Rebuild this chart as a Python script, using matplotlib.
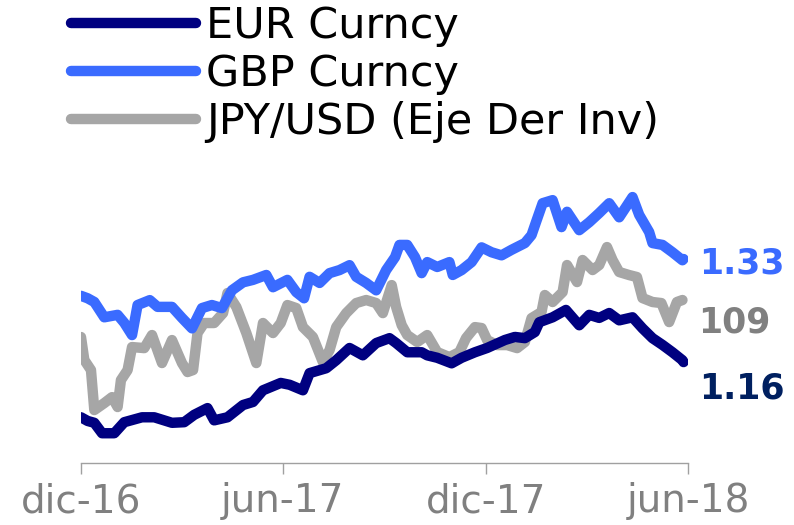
import matplotlib
matplotlib.use("Agg")
import matplotlib.pyplot as plt
import pandas as pd

# ---------------- data ----------------
gbp_dates = ["2016-12-01", "2016-12-07", "2016-12-13", "2016-12-22", "2017-01-03", "2017-01-09",
             "2017-01-16", "2017-01-21", "2017-02-01", "2017-02-08", "2017-02-21", "2017-03-02",
             "2017-03-11", "2017-03-20", "2017-03-29", "2017-04-07", "2017-04-16", "2017-04-26",
             "2017-05-05", "2017-05-17", "2017-05-23", "2017-06-05", "2017-06-13", "2017-06-20",
             "2017-06-25", "2017-07-04", "2017-07-13", "2017-07-22", "2017-07-31", "2017-08-06",
             "2017-08-15", "2017-08-24", "2017-09-02", "2017-09-10", "2017-09-14", "2017-09-21",
             "2017-09-28", "2017-10-04", "2017-10-09", "2017-10-18", "2017-10-29", "2017-11-01",
             "2017-11-09", "2017-11-18", "2017-11-27", "2017-12-06", "2017-12-15", "2017-12-24",
             "2018-01-05", "2018-01-11", "2018-01-15", "2018-01-21", "2018-01-30", "2018-02-07",
             "2018-02-12", "2018-02-23", "2018-03-04", "2018-03-13", "2018-03-22", "2018-03-31",
             "2018-04-12", "2018-04-18", "2018-04-27", "2018-04-30", "2018-05-09", "2018-05-18",
             "2018-05-27", "2018-05-28"]
gbp_values = [1.268, 1.264, 1.258, 1.233, 1.237, 1.224,
              1.204, 1.253, 1.261, 1.250, 1.250, 1.232,
              1.215, 1.248, 1.253, 1.248, 1.277, 1.290,
              1.294, 1.302, 1.282, 1.294, 1.274, 1.264,
              1.299, 1.289, 1.305, 1.310, 1.318, 1.299,
              1.289, 1.277, 1.310, 1.331, 1.351, 1.351,
              1.331, 1.305, 1.323, 1.315, 1.323, 1.302,
              1.310, 1.323, 1.347, 1.339, 1.334, 1.343,
              1.354, 1.367, 1.388, 1.419, 1.424, 1.380,
              1.405, 1.375, 1.388, 1.403, 1.419, 1.396,
              1.429, 1.400, 1.372, 1.354, 1.351, 1.339,
              1.326, 1.328]

eur_dates = ["2016-12-01", "2016-12-07", "2016-12-13", "2016-12-20", "2016-12-31", "2017-01-09",
             "2017-01-25", "2017-02-05", "2017-02-21", "2017-03-04", "2017-03-13", "2017-03-25",
             "2017-03-31", "2017-04-12", "2017-04-26", "2017-05-05", "2017-05-14", "2017-05-30",
             "2017-06-07", "2017-06-19", "2017-06-25", "2017-07-10", "2017-07-19", "2017-07-31",
             "2017-08-12", "2017-08-24", "2017-09-05", "2017-09-11", "2017-09-21", "2017-10-04",
             "2017-10-09", "2017-10-18", "2017-10-31", "2017-11-09", "2017-11-21", "2017-12-02",
             "2017-12-18", "2017-12-27", "2018-01-05", "2018-01-14", "2018-01-18", "2018-01-30",
             "2018-02-11", "2018-02-23", "2018-03-04", "2018-03-13", "2018-03-22", "2018-03-31",
             "2018-04-12", "2018-04-21", "2018-04-30", "2018-05-09", "2018-05-18", "2018-05-27",
             "2018-05-28"]
eur_values = [1.070, 1.064, 1.061, 1.044, 1.044, 1.062,
              1.070, 1.070, 1.061, 1.062, 1.074, 1.085,
              1.065, 1.070, 1.090, 1.095, 1.114, 1.126,
              1.123, 1.114, 1.142, 1.150, 1.163, 1.183,
              1.171, 1.191, 1.199, 1.191, 1.176, 1.176,
              1.171, 1.167, 1.158, 1.167, 1.176, 1.183,
              1.196, 1.201, 1.199, 1.209, 1.225, 1.233,
              1.245, 1.220, 1.237, 1.232, 1.240, 1.228,
              1.233, 1.215, 1.199, 1.188, 1.176, 1.163,
              1.160]

jpy_dates = ["2016-12-01", "2016-12-04", "2016-12-10", "2016-12-13", "2016-12-22", "2016-12-29",
             "2017-01-03", "2017-01-06", "2017-01-12", "2017-01-16", "2017-01-27", "2017-02-03",
             "2017-02-12", "2017-02-21", "2017-03-02", "2017-03-07", "2017-03-12", "2017-03-16",
             "2017-03-22", "2017-03-31", "2017-04-08", "2017-04-12", "2017-04-20", "2017-04-29",
             "2017-05-08", "2017-05-14", "2017-05-23", "2017-05-30", "2017-06-05", "2017-06-13",
             "2017-06-19", "2017-06-28", "2017-07-07", "2017-07-13", "2017-07-19", "2017-07-28",
             "2017-08-06", "2017-08-15", "2017-08-24", "2017-08-30", "2017-09-07", "2017-09-11",
             "2017-09-16", "2017-09-21", "2017-09-30", "2017-10-09", "2017-10-18", "2017-10-29",
             "2017-11-07", "2017-11-13", "2017-11-21", "2017-11-27", "2017-12-02", "2017-12-11",
             "2017-12-20", "2017-12-29", "2018-01-05", "2018-01-11", "2018-01-20", "2018-01-23",
             "2018-01-30", "2018-02-08", "2018-02-12", "2018-02-21", "2018-02-26", "2018-03-07",
             "2018-03-13", "2018-03-20", "2018-03-25", "2018-03-31", "2018-04-09", "2018-04-16",
             "2018-04-21", "2018-04-30", "2018-05-08", "2018-05-15", "2018-05-22", "2018-05-27"]
jpy_values = [111.91, 113.88, 114.74, 118.17, 117.57, 117.06,
              117.91, 115.60, 114.74, 112.77, 112.86, 111.74,
              114.14, 112.17, 114.14, 114.91, 114.74, 111.57,
              110.71, 110.71, 109.86, 108.14, 109.34, 111.57,
              114.14, 110.71, 111.57, 110.71, 109.17, 109.43,
              111.06, 111.91, 114.06, 113.03, 111.06, 109.86,
              109.00, 108.74, 109.00, 109.86, 107.46, 109.34,
              110.89, 111.74, 112.34, 111.74, 113.20, 113.63,
              113.20, 112.00, 111.06, 111.14, 112.17, 112.60,
              112.60, 112.86, 112.34, 110.29, 109.77, 108.31,
              108.91, 108.06, 105.74, 107.20, 105.31, 106.17,
              105.74, 104.20, 105.31, 106.34, 106.60, 106.77,
              108.57, 108.91, 109.00, 110.63, 108.91, 108.74]

series_names = ["EUR Curncy", "GBP Curncy", "JPY/USD (Eje Der Inv)"]
tick_dates = ["2016-12-01", "2017-06-01", "2017-12-01", "2018-06-01"]
tick_labels = ["dic-16", "jun-17", "dic-17", "jun-18"]

# ---------------- style ----------------
C_EUR = "#000080"
C_GBP = "#3A6BFF"
C_JPY = "#A6A6A6"
C_EUR_LBL = "#002060"
C_JPY_LBL = "#808080"
LW = 7.5

fig = plt.figure(figsize=(7.94, 5.25), dpi=100)
ax = fig.add_axes([0.102, 0.118, 0.7645, 0.539])
ax2 = ax.twinx()

line_kw = dict(lw=LW, solid_capstyle="round", solid_joinstyle="round")
ax2.plot(pd.to_datetime(jpy_dates), jpy_values, color=C_JPY, label=series_names[2], zorder=2, **line_kw)
ax.plot(pd.to_datetime(eur_dates), eur_values, color=C_EUR, label=series_names[0], zorder=3, **line_kw)
ax.plot(pd.to_datetime(gbp_dates), gbp_values, color=C_GBP, label=series_names[1], zorder=3, **line_kw)

ax.set_zorder(ax2.get_zorder() + 1)
ax.patch.set_visible(False)

ax.set_ylim(0.9954, 1.4567)
ax2.set_ylim(122.71, 98.46)

xmin, xmax = pd.Timestamp(tick_dates[0]), pd.Timestamp(tick_dates[-1])
ax.set_xlim(xmin, xmax)

for a in (ax, ax2):
    for s in ("left", "right", "top"):
        a.spines[s].set_visible(False)
    a.set_yticks([])
ax2.spines["bottom"].set_visible(False)
ax.spines["bottom"].set_color("#A0A0A0")
ax.spines["bottom"].set_linewidth(1.0)

ax.set_xticks(pd.to_datetime(tick_dates))
ax.set_xticklabels(tick_labels)
ax.tick_params(axis="x", direction="out", length=8, width=1.0, color="#A0A0A0",
               labelsize=28, labelcolor="#808080", pad=6)

# end-value labels
ax.annotate(f"{gbp_values[-1]:.2f}", xy=(pd.Timestamp(gbp_dates[-1]), gbp_values[-1]),
            xytext=(11, -3), textcoords="offset points", ha="left", va="center",
            fontsize=25, fontweight="bold", color=C_GBP, annotation_clip=False)
ax2.annotate(f"{jpy_values[-1]:.0f}", xy=(pd.Timestamp(jpy_dates[-1]), jpy_values[-1]),
             xytext=(11, -16), textcoords="offset points", ha="left", va="center",
             fontsize=25, fontweight="bold", color=C_JPY_LBL, annotation_clip=False)
ax.annotate(f"{eur_values[-1]:.2f}", xy=(pd.Timestamp(eur_dates[-1]), eur_values[-1]),
            xytext=(11, -19), textcoords="offset points", ha="left", va="center",
            fontsize=25, fontweight="bold", color=C_EUR_LBL, annotation_clip=False)

# legend
h1, l1 = ax.get_legend_handles_labels()
h2, l2 = ax2.get_legend_handles_labels()
leg = fig.legend(h1 + h2, l1 + l2, loc="upper left", bbox_to_anchor=(0.089, 0.99),
                 frameon=False, fontsize=31, handlelength=2.9, handletextpad=0.25,
                 labelspacing=0.14, borderpad=0.0, borderaxespad=0.0)

fig.savefig("out.png", dpi=100)
